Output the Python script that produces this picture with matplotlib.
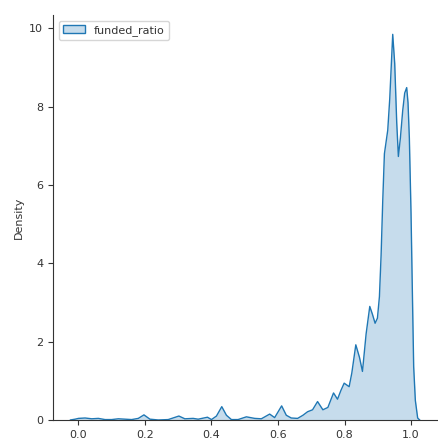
import numpy as np
import matplotlib
matplotlib.use("Agg")
import matplotlib.pyplot as plt
from matplotlib.patches import Patch

# density curve of funded_ratio (x, density)
ratio = [-0.024, -0.01, 0.0, 0.02, 0.04, 0.06, 0.08, 0.10, 0.12, 0.14,
         0.16, 0.18, 0.197, 0.215, 0.24, 0.27, 0.302, 0.32, 0.345, 0.36,
         0.388, 0.40, 0.415, 0.431, 0.445, 0.46, 0.48, 0.505, 0.53, 0.55,
         0.575, 0.59, 0.611, 0.625, 0.64, 0.659, 0.675, 0.689, 0.704, 0.719,
         0.735, 0.75, 0.767, 0.779, 0.789, 0.799, 0.814, 0.822, 0.834, 0.845,
         0.854, 0.865, 0.876, 0.884, 0.892, 0.899, 0.905, 0.91, 0.915, 0.92,
         0.925, 0.93, 0.936, 0.945, 0.951, 0.957, 0.962, 0.968, 0.975, 0.981,
         0.987, 0.991, 0.995, 1.0, 1.004, 1.008, 1.013, 1.02, 1.026]
density = [0.0, 0.02, 0.04, 0.05, 0.03, 0.04, 0.01, 0.01, 0.03, 0.02,
           0.01, 0.04, 0.13, 0.02, 0.0, 0.01, 0.10, 0.03, 0.04, 0.02,
           0.07, 0.01, 0.10, 0.34, 0.12, 0.01, 0.01, 0.08, 0.04, 0.03,
           0.15, 0.06, 0.36, 0.12, 0.05, 0.04, 0.12, 0.21, 0.26, 0.47,
           0.26, 0.32, 0.69, 0.53, 0.75, 0.94, 0.85, 1.2, 1.92, 1.6,
           1.24, 2.2, 2.9, 2.7, 2.47, 2.6, 3.15, 4.2, 5.6, 6.8,
           7.1, 7.4, 8.2, 9.85, 9.1, 7.6, 6.73, 7.2, 7.9, 8.35,
           8.49, 8.1, 7.2, 5.3, 3.3, 1.36, 0.5, 0.05, 0.0]

color = "#1f77b4"
plt.rcParams["font.size"] = 8
plt.rcParams["text.color"] = "0.2"
plt.rcParams["axes.labelcolor"] = "0.2"
plt.rcParams["xtick.color"] = "0.2"
plt.rcParams["ytick.color"] = "0.2"
plt.rcParams["axes.edgecolor"] = "0.2"

fig = plt.figure(figsize=(4.38, 4.43), dpi=100)
ax = fig.add_axes([0.121, 0.052, 0.877, 0.914])

ax.fill_between(ratio, density, 0, color=color, alpha=0.25, linewidth=0)
ax.plot(ratio, density, color=color, linewidth=1)

span = max(ratio) - min(ratio)
ax.set_xlim(min(ratio) - 0.05 * span, max(ratio) + 0.05 * span)
ax.set_ylim(0, max(density) * 1.05)
ax.set_xticks([0.0, 0.2, 0.4, 0.6, 0.8, 1.0])
ax.set_yticks([0, 2, 4, 6, 8, 10])
ax.set_ylabel("Density")

for side in ["top", "right"]:
    ax.spines[side].set_visible(False)

handle = Patch(facecolor=matplotlib.colors.to_rgba(color, 0.25),
               edgecolor=color, linewidth=1)
ax.legend([handle], ["funded_ratio"], loc="upper left")

fig.savefig("out.png", dpi=100)
